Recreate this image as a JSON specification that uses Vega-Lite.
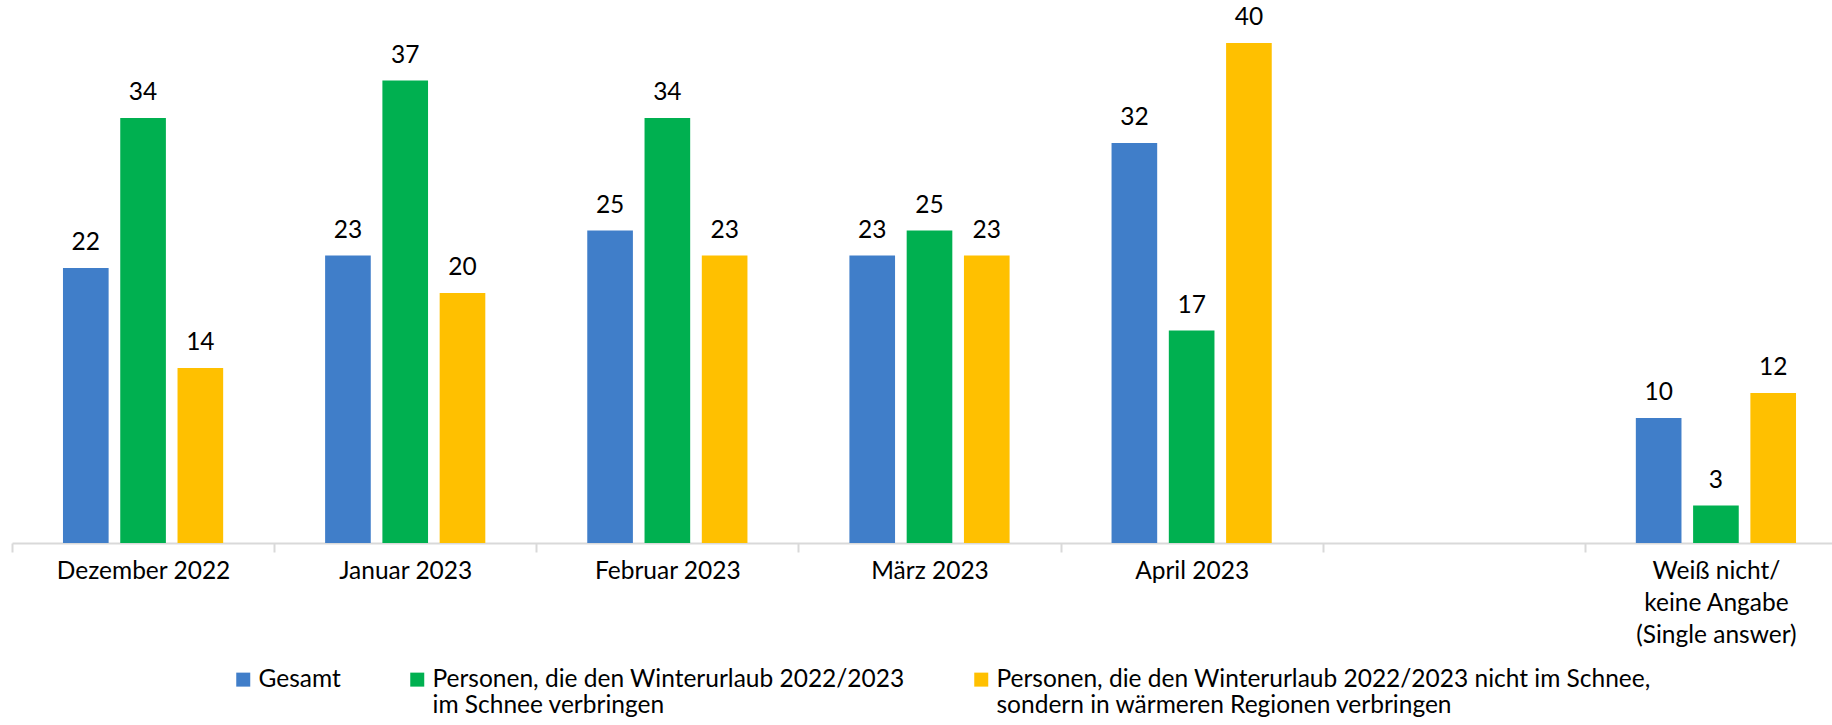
{
  "$schema": "https://vega.github.io/schema/vega-lite/v6.json",
  "width": 1820,
  "height": 543,
  "autosize": {"type": "none"},
  "padding": {"left": 12, "top": 0, "right": 0, "bottom": 182},
  "background": "white",
  "config": {"view": {"stroke": null}, "font": "Lato"},
  "data": {
    "values": [
      {"cat": "Dezember 2022", "series": "Gesamt", "value": 22},
      {"cat": "Dezember 2022", "series": "Schnee", "value": 34},
      {"cat": "Dezember 2022", "series": "Warm", "value": 14},
      {"cat": "Januar 2023", "series": "Gesamt", "value": 23},
      {"cat": "Januar 2023", "series": "Schnee", "value": 37},
      {"cat": "Januar 2023", "series": "Warm", "value": 20},
      {"cat": "Februar 2023", "series": "Gesamt", "value": 25},
      {"cat": "Februar 2023", "series": "Schnee", "value": 34},
      {"cat": "Februar 2023", "series": "Warm", "value": 23},
      {"cat": "März 2023", "series": "Gesamt", "value": 23},
      {"cat": "März 2023", "series": "Schnee", "value": 25},
      {"cat": "März 2023", "series": "Warm", "value": 23},
      {"cat": "April 2023", "series": "Gesamt", "value": 32},
      {"cat": "April 2023", "series": "Schnee", "value": 17},
      {"cat": "April 2023", "series": "Warm", "value": 40},
      {"cat": "Weiß nicht/keine Angabe (Single answer)", "series": "Gesamt", "value": 10},
      {"cat": "Weiß nicht/keine Angabe (Single answer)", "series": "Schnee", "value": 3},
      {"cat": "Weiß nicht/keine Angabe (Single answer)", "series": "Warm", "value": 12}
    ]
  },
  "encoding": {
    "x": {
      "field": "cat",
      "type": "nominal",
      "scale": {
        "domain": ["Dezember 2022", "Januar 2023", "Februar 2023", "März 2023", "April 2023", " ", "Weiß nicht/keine Angabe (Single answer)"],
        "range": [0, 1835],
        "paddingInner": 0,
        "paddingOuter": 0
      },
      "axis": {
        "title": null,
        "labelAngle": 0,
        "labelFontSize": 24.5,
        "labelColor": "#000000",
        "labelFont": "Lato",
        "labelLineHeight": 32,
        "labelPadding": 7,
        "labelLimit": 400,
        "tickBand": "extent",
        "tickSize": 9,
        "tickColor": "#d9d9d9",
        "tickWidth": 2,
        "domainColor": "#d9d9d9",
        "domainWidth": 2,
        "labelExpr": "datum.value == 'Weiß nicht/keine Angabe (Single answer)' ? ['Weiß nicht/', 'keine Angabe', '(Single answer)'] : datum.value"
      }
    },
    "xOffset": {
      "field": "series",
      "type": "nominal",
      "scale": {"domain": ["Gesamt", "Schnee", "Warm"], "paddingInner": 0.203, "paddingOuter": 0.89}
    },
    "y": {
      "field": "value",
      "type": "quantitative",
      "scale": {"domain": [0, 43.44], "nice": false, "zero": true},
      "axis": null
    }
  },
  "layer": [
    {
      "mark": {"type": "bar"},
      "encoding": {
        "color": {
          "field": "series",
          "type": "nominal",
          "scale": {"domain": ["Gesamt", "Schnee", "Warm"], "range": ["#407EC9", "#00B050", "#FFC000"]},
          "legend": {
            "orient": "none",
            "legendX": 219,
            "legendY": 667,
            "padding": 0,
            "direction": "horizontal",
            "title": null,
            "symbolType": "square",
            "symbolSize": 196,
            "symbolStrokeWidth": 0,
            "symbolOpacity": 1,
            "labelFontSize": 24.5,
            "labelFont": "Lato",
            "labelColor": "#000000",
            "labelLineHeight": 32,
            "labelBaseline": "middle",
            "labelLimit": 1000,
            "labelOffset": 3,
            "columnPadding": 64,
            "labelExpr": "datum.value == 'Gesamt' ? ['Gesamt', ' '] : datum.value == 'Schnee' ? ['Personen, die den Winterurlaub 2022/2023', 'im Schnee verbringen'] : ['Personen, die den Winterurlaub 2022/2023 nicht im Schnee,', 'sondern in wärmeren Regionen verbringen']"
          }
        }
      }
    },
    {
      "mark": {"type": "text", "dy": -18, "baseline": "alphabetic", "fontSize": 24.5, "font": "Lato", "color": "#000000"},
      "encoding": {"text": {"field": "value", "type": "quantitative"}}
    }
  ]
}
